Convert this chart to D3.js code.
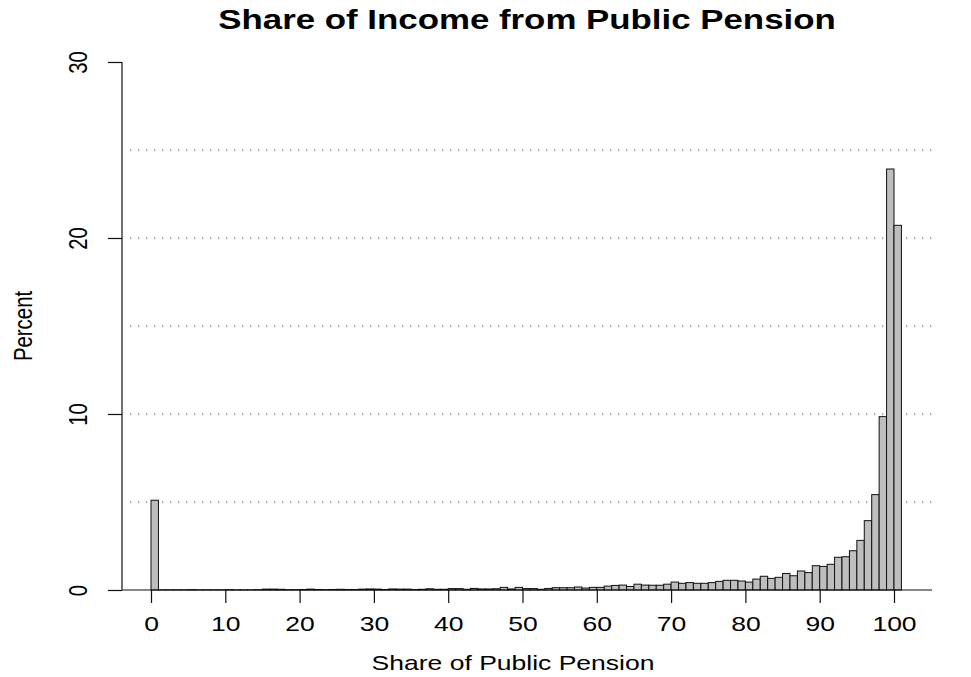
<!DOCTYPE html>
<html>
<head>
<meta charset="utf-8">
<script src="https://cdn.jsdelivr.net/npm/d3@7"></script>
<style>
  html, body { margin: 0; padding: 0; background: #fff; }
  svg { display: block; font-family: "Liberation Sans", Arial, sans-serif; }
</style>
</head>
<body>
<svg id="chart" width="971" height="677"></svg>
<script>
// Histogram bins: share of income from public pension (percent, 1-point bins)
const binStarts = d3.range(0, 101);
const percents = [
  5.10, 0.01, 0.01, 0.01, 0.01, 0.02, 0.01, 0.01, 0.01, 0.01,
  0.02, 0.01, 0.01, 0.01, 0.02, 0.05, 0.05, 0.04, 0.02, 0.02,
  0.03, 0.05, 0.03, 0.02, 0.03, 0.04, 0.03, 0.03, 0.05, 0.06,
  0.05, 0.03, 0.06, 0.05, 0.05, 0.03, 0.04, 0.07, 0.04, 0.04,
  0.08, 0.08, 0.04, 0.09, 0.06, 0.06, 0.07, 0.15, 0.06, 0.15,
  0.08, 0.08, 0.04, 0.09, 0.13, 0.13, 0.13, 0.17, 0.11, 0.15,
  0.15, 0.22, 0.26, 0.28, 0.20, 0.33, 0.28, 0.27, 0.27, 0.33,
  0.45, 0.38, 0.42, 0.38, 0.38, 0.42, 0.49, 0.55, 0.55, 0.51,
  0.45, 0.62, 0.78, 0.66, 0.72, 0.94, 0.81, 1.08, 0.99, 1.38,
  1.34, 1.46, 1.86, 1.89, 2.23, 2.82, 3.94, 5.42, 9.85, 23.92,
  20.72
];
const xTicks = [0, 10, 20, 30, 40, 50, 60, 70, 80, 90, 100];
const yTicks = [0, 10, 20, 30];
const gridValues = [5, 10, 15, 20, 25];

const titleText = "Share of Income from Public Pension";
const xLabel = "Share of Public Pension";
const yLabel = "Percent";

const bins = binStarts.map((b, i) => ({ x0: b, x1: b + 1, value: percents[i] }));

const svg = d3.select("#chart");
const stretch = 1.3; // horizontal text stretch

const x = d3.scaleLinear().domain([0, 100]).range([151, 894]);
const y = d3.scaleLinear().domain([0, 30]).range([590, 62]);
const plotLeft = 122, plotRight = 932;

// dotted reference lines
svg.append("g").selectAll("line").data(gridValues).join("line")
  .attr("x1", 130).attr("x2", plotRight)
  .attr("y1", d => y(d)).attr("y2", d => y(d))
  .attr("stroke", "#444").attr("stroke-width", 1.2)
  .attr("stroke-dasharray", "1.2,6.8");

// bars
svg.append("g").selectAll("rect").data(bins).join("rect")
  .attr("x", d => x(d.x0))
  .attr("width", d => x(d.x1) - x(d.x0))
  .attr("y", d => y(d.value))
  .attr("height", d => y(0) - y(d.value))
  .attr("fill", "#bebebe")
  .attr("stroke", "#111")
  .attr("stroke-width", 1);

// baseline
svg.append("line")
  .attr("x1", plotLeft).attr("x2", plotRight)
  .attr("y1", y(0)).attr("y2", y(0))
  .attr("stroke", "#111").attr("stroke-width", 1.2);

// x axis
const xAxis = d3.axisBottom(x).tickValues(xTicks).tickSize(13).tickSizeOuter(0).tickFormat(d3.format("d"));
const gx = svg.append("g").attr("transform", `translate(0,${y(0)})`).call(xAxis);
gx.select(".domain").remove();
gx.selectAll(".tick line").attr("stroke", "#111").attr("stroke-width", 1.2);
gx.selectAll(".tick text")
  .attr("y", 0).attr("dy", null)
  .attr("font-size", 20.4).attr("fill", "#000")
  .attr("transform", `translate(0,41) scale(${stretch},1)`);

// y axis
const yAxis = d3.axisLeft(y).tickValues(yTicks).tickSize(14).tickSizeOuter(0).tickFormat(d3.format("d"));
const gy = svg.append("g").attr("transform", `translate(${plotLeft},0)`).call(yAxis);
gy.select(".domain").attr("d", `M0,${y(30)}V${y(0)}`).attr("stroke", "#111").attr("stroke-width", 1.2);
gy.selectAll(".tick line").attr("stroke", "#111").attr("stroke-width", 1.2);
gy.selectAll(".tick text")
  .attr("x", 0).attr("dy", null).attr("text-anchor", "middle")
  .attr("font-size", 20.4).attr("fill", "#000")
  .attr("transform", `translate(-35,0) scale(${stretch},1) rotate(-90)`);

// titles
svg.append("text")
  .attr("text-anchor", "middle")
  .attr("font-size", 26.8).attr("font-weight", "bold").attr("fill", "#000")
  .attr("transform", `translate(527,29) scale(${stretch},1)`)
  .text(titleText);

svg.append("text")
  .attr("text-anchor", "middle")
  .attr("font-size", 20.4).attr("fill", "#000")
  .attr("transform", `translate(513,670) scale(${stretch},1)`)
  .text(xLabel);

svg.append("text")
  .attr("text-anchor", "middle")
  .attr("font-size", 20.4).attr("fill", "#000")
  .attr("transform", `translate(32,326) scale(${stretch},1) rotate(-90)`)
  .text(yLabel);
</script>
</body>
</html>
